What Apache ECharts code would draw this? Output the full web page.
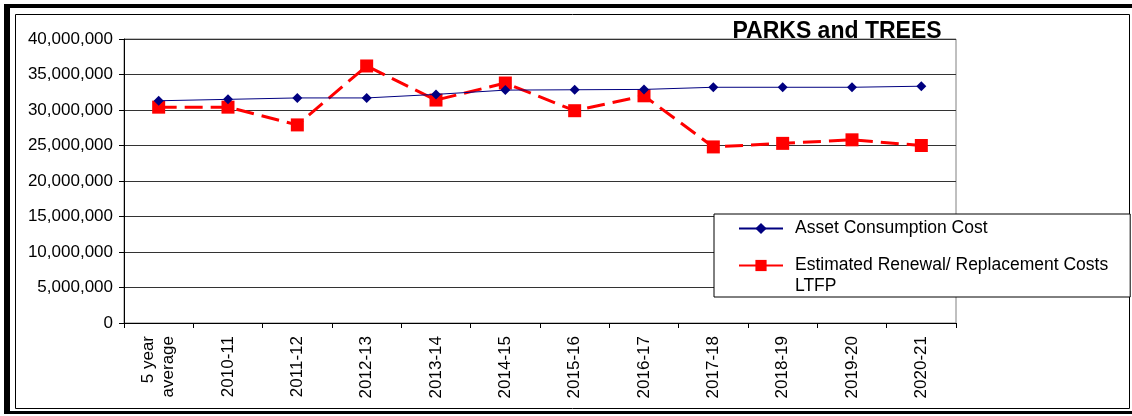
<!DOCTYPE html>
<html>
<head>
<meta charset="utf-8">
<script src="https://cdn.jsdelivr.net/npm/echarts@6/dist/echarts.min.js"></script>
<style>
    html, body { margin: 0; padding: 0; background: #fff; }
    #parksChart { width: 1132px; height: 416px; }
</style>
</head>
<body>
<div id="parksChart"></div>
<script type="text/javascript">
    // categories and series
    var years = ['5 year\naverage', '2010-11', '2011-12', '2012-13', '2013-14', '2014-15',
        '2015-16', '2016-17', '2017-18', '2018-19', '2019-20', '2020-21'];
    var assetConsumption = [31300000, 31500000, 31700000, 31700000, 32200000, 32800000,
        32850000, 32900000, 33200000, 33200000, 33200000, 33350000];
    var renewalLtfp = [30400000, 30400000, 27900000, 36200000, 31400000, 33800000,
        29900000, 32000000, 24800000, 25300000, 25800000, 25000000];
    var yTicks = [0, 5000000, 10000000, 15000000, 20000000, 25000000, 30000000, 35000000, 40000000];

    var fontName = '"Liberation Sans", Arial, sans-serif';
    var nameAsset = 'Asset Consumption Cost';
    var nameLtfp = 'Estimated Renewal/ Replacement Costs\nLTFP';

    function fmt(v) {
        return String(v).replace(/\B(?=(\d{3})+(?!\d))/g, ',');
    }

    var chart = echarts.init(document.getElementById('parksChart'));
    var option = {
        animation: false,
        textStyle: { fontFamily: fontName },
        title: {
            text: 'PARKS and TREES',
            left: 832,
            top: 15,
            textAlign: 'center',
            textStyle: { fontSize: 23, fontWeight: 'bold', color: '#000', fontFamily: fontName }
        },
        // frame round the whole picture
        graphic: [
            { type: 'rect', shape: { x: 4, y: 4, width: 1128, height: 4 }, style: { fill: '#000' } },
            { type: 'rect', shape: { x: 4, y: 4, width: 6, height: 408 }, style: { fill: '#000' } },
            { type: 'rect', shape: { x: 4, y: 411, width: 1128, height: 3 }, style: { fill: '#000' } },
            { type: 'rect', shape: { x: 15.5, y: 14.5, width: 1114, height: 394 },
                style: { fill: 'none', stroke: '#000', lineWidth: 1 } }
        ],
        legend: {
            orient: 'vertical',
            left: 714,
            top: 214,
            padding: [4, 22, 0, 24],
            itemGap: -5,
            itemWidth: 44,
            itemHeight: 14,
            backgroundColor: '#fff',
            borderColor: '#000',
            borderWidth: 1,
            textStyle: { fontSize: 17.5, color: '#000', fontFamily: fontName, lineHeight: 21, padding: [0, 0, 0, 7] },
            // blank first line keeps the marker level with the first line of text
            formatter: function (name) {
                return name === nameLtfp ? '\n' + name : name;
            },
            data: [
                { name: nameAsset },
                { name: nameLtfp, lineStyle: { type: 'solid' } }
            ]
        },
        grid: {
            left: 124,
            right: 176,
            top: 39,
            bottom: 93,
            show: true,
            borderColor: '#808080',
            borderWidth: 1
        },
        xAxis: {
            type: 'category',
            data: years,
            boundaryGap: true,
            axisLine: { lineStyle: { color: '#000', width: 1 } },
            axisTick: { show: true, length: 5, lineStyle: { color: '#000' } },
            axisLabel: {
                rotate: 90,
                interval: 0,
                margin: 13,
                fontSize: 17,
                color: '#000',
                lineHeight: 20,
                fontFamily: fontName
            }
        },
        yAxis: {
            type: 'value',
            min: yTicks[0],
            max: yTicks[yTicks.length - 1],
            interval: yTicks[1] - yTicks[0],
            axisLine: { show: true, lineStyle: { color: '#000', width: 1 } },
            axisTick: { show: true, length: 5, lineStyle: { color: '#000' } },
            splitLine: { show: true, lineStyle: { color: '#333', width: 1 } },
            axisLabel: {
                margin: 11,
                fontSize: 17,
                color: '#000',
                fontFamily: fontName,
                formatter: function (v) { return fmt(v); }
            }
        },
        series: [
            {
                name: nameAsset,
                type: 'line',
                data: assetConsumption,
                symbol: 'diamond',
                symbolSize: 10,
                itemStyle: { color: '#000080' },
                lineStyle: { color: '#000080', width: 1 },
                z: 3
            },
            {
                name: nameLtfp,
                type: 'line',
                data: renewalLtfp,
                symbol: 'rect',
                symbolSize: 13,
                itemStyle: { color: '#ff0000' },
                lineStyle: { color: '#ff0000', width: 3, type: [18, 8] },
                z: 2
            }
        ]
    };
    chart.setOption(option);
</script>
</body>
</html>
